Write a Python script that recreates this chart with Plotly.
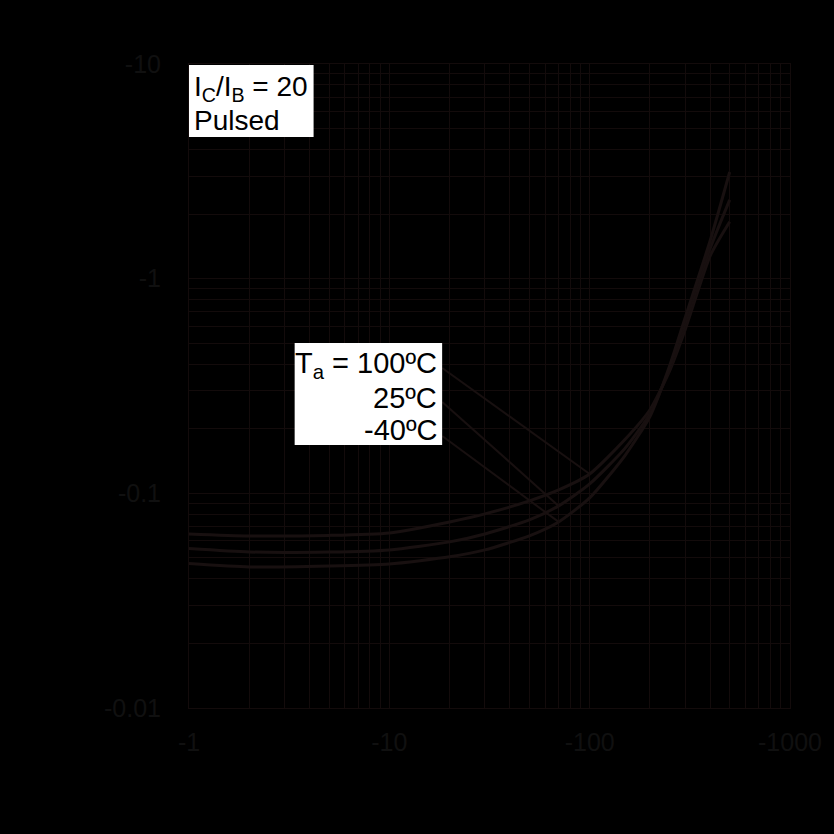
import plotly.graph_objects as go

# Collector current magnitude (mA) and VCE(sat) magnitude (V); shown as negatives via tick labels
current_ma = [1, 2, 5, 10, 20, 30, 50, 70, 100, 150, 200, 250, 300, 400, 500]
vce_100c = [0.0647, 0.0633, 0.0637, 0.0654, 0.0736, 0.0802, 0.0922, 0.1037, 0.123, 0.178, 0.245, 0.37, 0.58, 1.28, 1.84]
vce_25c = [0.0553, 0.0533, 0.0533, 0.0545, 0.0594, 0.0647, 0.0752, 0.0874, 0.1107, 0.162, 0.235, 0.38, 0.62, 1.39, 2.33]
vce_m40c = [0.0471, 0.0454, 0.0459, 0.0469, 0.0506, 0.0545, 0.0634, 0.0736, 0.0952, 0.150, 0.228, 0.39, 0.66, 1.51, 3.14]

x_tickvals = [1, 10, 100, 1000]
x_ticktext = ["-1", "-10", "-100", "-1000"]
y_tickvals = [0.01, 0.1, 1, 10]
y_ticktext = ["-0.01", "-0.1", "-1", "-10"]

condition_lines = ["I<sub>C</sub>/I<sub>B</sub> = 20", "Pulsed"]
temp_lines = ["T<sub>a</sub> = 100ºC", "25ºC", "-40ºC"]

curve_color = "#181010"
grid_color = "#130b0b"
label_color = "#101010"
font_family = "Liberation Sans, Arial, sans-serif"

fig = go.Figure()
for name, vals in [("100ºC", vce_100c), ("25ºC", vce_25c), ("-40ºC", vce_m40c)]:
    fig.add_trace(go.Scatter(x=current_ma, y=vals, mode="lines", name=name,
                             line=dict(color=curve_color, width=3, shape="spline", smoothing=0.6),
                             showlegend=False, hoverinfo="skip"))

axis_common = dict(
    type="log",
    showgrid=True, gridcolor=grid_color, gridwidth=1,
    showline=True, linecolor=grid_color, linewidth=1, mirror=True,
    ticks="", zeroline=False,
    tickfont=dict(family=font_family, size=25, color=label_color),
    minor=dict(dtick="D1", showgrid=True, gridcolor=grid_color, gridwidth=1, ticks=""),
)

fig.update_xaxes(range=[0, 3], tickmode="array", tickvals=x_tickvals, ticktext=x_ticktext,
                 ticklabelstandoff=12, **axis_common)
fig.update_yaxes(range=[-2, 1], tickmode="array", tickvals=y_tickvals, ticktext=y_ticktext,
                 ticklabelstandoff=22, **axis_common)

shapes = []
# leader lines from the temperature labels (box edge) to points on the curves
label_edge_current = 10 ** 1.264
leaders = [
    (vce_100c, 8, 10 ** -0.416),
    (vce_25c, 7, 10 ** -0.574),
    (vce_m40c, 7, 10 ** -0.733),
]
for vals, idx, tail_v in leaders:
    shapes.append(dict(type="line", xref="x", yref="y",
                       x0=label_edge_current, y0=tail_v,
                       x1=current_ma[idx], y1=vals[idx],
                       line=dict(color=curve_color, width=2), layer="above"))

shapes += [
    dict(type="rect", xref="paper", yref="paper", x0=0.0, x1=0.2073, y0=0.8866, y1=0.9984,
         fillcolor="white", line=dict(width=0), layer="above"),
    dict(type="rect", xref="paper", yref="paper", x0=0.1758, x1=0.4212, y0=0.4084, y1=0.5668,
         fillcolor="white", line=dict(width=0), layer="above"),
]

annotations = []
for txt, yp in zip(condition_lines, [0.9627, 0.913]):
    annotations.append(dict(xref="paper", yref="paper", x=0.005, y=yp, xanchor="left", yanchor="middle",
                            text=txt, showarrow=False,
                            font=dict(family=font_family, size=28, color="black")))
for txt, yp in zip(temp_lines, [0.5326, 0.4814, 0.4317]):
    annotations.append(dict(xref="paper", yref="paper", x=0.4163, y=yp, xanchor="right", yanchor="middle",
                            text=txt, showarrow=False,
                            font=dict(family=font_family, size=29, color="black")))

fig.update_layout(
    width=834, height=834,
    margin=dict(l=189, r=42, t=64, b=126),
    paper_bgcolor="black", plot_bgcolor="black",
    font=dict(family=font_family, color=label_color),
    shapes=shapes,
    annotations=annotations,
    hovermode=False,
)

fig.write_html("out.html", config={"displayModeBar": False},
               post_script="document.body.style.margin='0';document.body.style.background='black';")
